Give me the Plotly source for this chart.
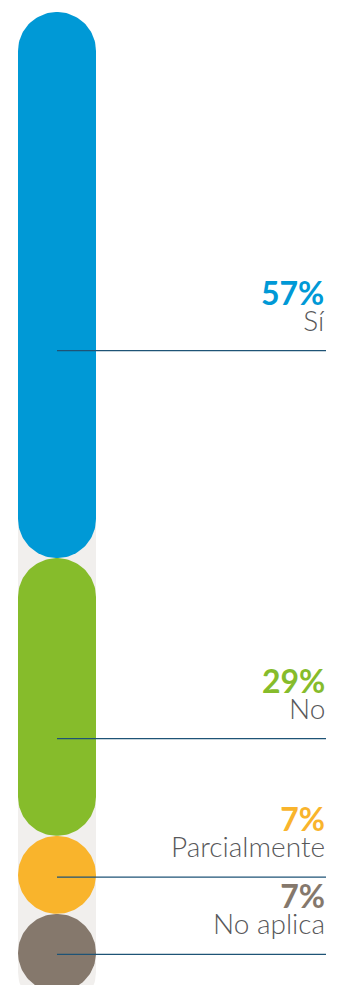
import numpy as np
import plotly.graph_objects as go

# Survey answers, stacked top to bottom
categories = ["Sí", "No", "Parcialmente", "No aplica"]
shares = [57, 29, 7, 7]
share_labels = ["57%", "29%", "7%", "7%"]

# Styling
colors = ["#0099D6", "#86BC2B", "#F9B42C", "#85786C"]
track_color = "#F1EFED"
leader_color = "#1E5376"
label_color = "#58585A"
leader_at = [0.62, 0.65, 0.53, 0.52]   # where each leader line sits inside its segment

W, H = 342, 985
px_per_unit = 9.58          # vertical pixels per percentage point
top_px = 12                 # gap above the bar
bar_left, bar_right = 18, 96
text_right = 326

cx = (bar_left + bar_right) / 2
rx = (bar_right - bar_left) / 2          # cap radius in x units (pixels)
ry = rx / px_per_unit                    # same radius in percentage units
min_h = 2 * ry                           # short segments become circles

heights = [max(v, min_h) for v in shares]
starts = np.concatenate([[0], np.cumsum(heights)[:-1]])
total = float(np.sum(heights))


def pill(y0, y1, n=60):
    t_top = np.linspace(np.pi, 0, n)
    t_bot = np.linspace(0, -np.pi, n)
    yt, yb = y0 + ry, y1 - ry
    xs = np.concatenate([cx + rx * np.cos(t_top), cx + rx * np.cos(t_bot)])
    ys = np.concatenate([yt - ry * np.sin(t_top), yb - ry * np.sin(t_bot)])
    return np.append(xs, xs[0]), np.append(ys, ys[0])


fig = go.Figure()

# background track
tx, ty = pill(0, total + 2)
fig.add_trace(go.Scatter(x=tx, y=ty, fill="toself", fillcolor=track_color,
                         line=dict(width=0), mode="lines", hoverinfo="skip"))

for cat, s0, h, col in zip(categories, starts, heights, colors):
    px_, py_ = pill(s0, s0 + h)
    fig.add_trace(go.Scatter(x=px_, y=py_, fill="toself", fillcolor=col,
                             line=dict(width=0), mode="lines", name=cat,
                             hoverinfo="skip"))

annotations = []
for cat, lab, s0, h, col, f in zip(categories, share_labels, starts, heights,
                                   colors, leader_at):
    yl = s0 + f * h
    fig.add_trace(go.Scatter(x=[cx, text_right], y=[yl, yl], mode="lines",
                             line=dict(color=leader_color, width=1.3),
                             hoverinfo="skip"))
    # percentage over category name; base size 20 sets the 26px line step
    text = (f"<span style='font-size:32px;font-weight:700;color:{col}'>{lab}</span>"
            f"<br><span style='font-size:28px;font-weight:300'>{cat}</span>")
    annotations.append(dict(x=text_right, y=yl, xref="x", yref="y",
                            xanchor="right", yanchor="bottom", yshift=13,
                            align="right", text=text, showarrow=False,
                            borderpad=0,
                            font=dict(family="Lato", size=20,
                                      color=label_color)))

y_top = -top_px / px_per_unit
y_bottom = y_top + H / px_per_unit

fig.update_layout(
    width=W, height=H,
    margin=dict(l=0, r=0, t=0, b=0),
    paper_bgcolor="white", plot_bgcolor="white",
    showlegend=False,
    xaxis=dict(range=[0, W], visible=False, fixedrange=True),
    yaxis=dict(range=[y_bottom, y_top], visible=False, fixedrange=True),
    annotations=annotations,
)

fig.write_html("out.html", config={"displayModeBar": False})
